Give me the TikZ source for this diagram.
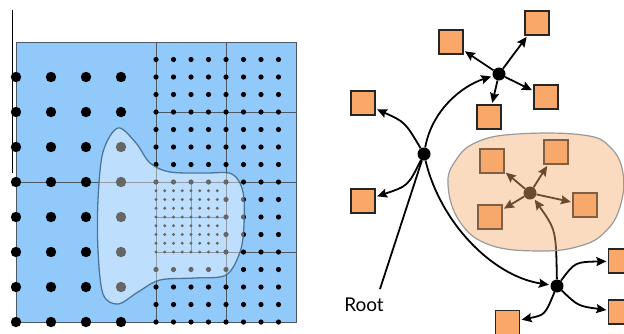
\documentclass[tikz,border=0pt]{standalone}
\usepackage{fontspec}
\setmainfont{Lato}
\usetikzlibrary{arrows.meta}
\definecolor{cellblue}{HTML}{91C9FA}
\definecolor{cellline}{HTML}{4A5866}
\definecolor{blobline}{HTML}{3F6688}
\definecolor{leafor}{HTML}{F9A86A}
\definecolor{peach}{HTML}{F5AC6E}
\tikzset{
 hub/.style={circle,fill=black,inner sep=0pt,minimum size=13pt},
 leaf/.style={rectangle,draw=black!85,line width=1.3pt,fill=leafor,minimum size=24pt,inner sep=0pt},
 arr/.style={line width=1.8pt,-{Stealth[length=10pt,width=9pt,inset=1.5pt]},shorten >=1.5pt},
}
\begin{document}
\begin{tikzpicture}[x=1pt,y=-1pt]
\useasboundingbox (0,0) rectangle (624,333);
% mesh
\draw[cellline,fill=cellblue,line width=0.9pt] (16,42) rectangle (296,322);
\draw[cellline,line width=1pt] (156,42) -- (156,322) (226,42) -- (226,322)
 (16,182) -- (297,182) (156,112) -- (296,112) (156,252) -- (296,252)
 (191,182) -- (191,252) (156,217) -- (226,217);
\draw[black,line width=1pt] (12,10) -- (12,173);
% coarse points
\foreach \i in {0,...,3}
 \foreach \j in {1,...,8}
  \fill (16+35*\i,42+35*\j) circle (5.2);
% medium points
\foreach \i in {0,...,7}
 \foreach \j in {1,...,16} {
  \pgfmathtruncatemacro{\skip}{(\i<4)&&(\j>8)&&(\j<13)}
  \ifnum\skip=0 \fill (156+17.5*\i,42+17.5*\j) circle (2.6); \fi
 }
% fine points
\foreach \i in {0,...,7}
 \foreach \j in {1,...,8}
  \fill (156+8.75*\i,182+8.75*\j) circle (1.6);
% region
\draw[blobline,line width=1.3pt,draw opacity=0.85,fill=white,fill opacity=0.4]
 plot[smooth cycle,tension=0.55] coordinates {(118,128) (136,143) (150,163) (170,172)
 (205,173) (232,174) (243,192) (244,225) (240,252) (226,275) (195,278) (160,280)
 (138,292) (118,304) (103,294) (98,250) (98,200) (103,152)};

% tree
\node[hub] (A) at (424,154) {};
\node[hub] (B) at (499,74) {};
\node[hub] (C) at (557,286) {};
\node[hub] (D) at (530,193) {};
\node[leaf] (s1) at (451,42) {};
\node[leaf] (s2) at (537,23) {};
\node[leaf] (s3) at (546,97) {};
\node[leaf] (s4) at (489,117) {};
\node[leaf] (s5) at (363,103) {};
\node[leaf] (s6) at (363,201) {};
\node[leaf] (s7) at (492,161) {};
\node[leaf] (s8) at (556,152) {};
\node[leaf] (s9) at (490,217) {};
\node[leaf] (s10) at (585,205) {};
\node[leaf] (s11) at (620.5,261) {};
\node[leaf] (s12) at (620.5,312) {};
\node[leaf] (s13) at (507.5,322.5) {};
\node[font=\fontsize{19}{22}\selectfont] (root) at (364,305) {Root};
\coordinate (r0) at (380,289);

\draw[line width=1.8pt] (r0) -- (A);
\draw[arr] (A) .. controls (405,122) .. (s5);
\draw[arr] (A) .. controls (408,186) .. (s6);
\draw[arr] (A) .. controls (432,110) and (462,86) .. (B);
\draw[arr] (A) .. controls (440,222) and (492,276) .. (C);
\foreach \s in {s1,s2,s3,s4}
 \draw[arr] (B) -- (\s);
\draw[arr] (C) .. controls (575,262) .. (s11);
\draw[arr] (C) .. controls (578,306) .. (s12);
\draw[arr] (C) .. controls (545,315) .. (s13);
\draw[arr] (C) .. controls (556,230) .. (D);
\foreach \s in {s7,s8,s9,s10}
 \draw[arr] (D) -- (\s);
% cluster
\draw[gray!80,line width=1.2pt,fill=peach,fill opacity=0.44]
 plot[smooth cycle,tension=0.7] coordinates {(448,185) (456,160) (477,142) (517,134)
 (583,135) (610,147) (623,173) (620,207) (605,232) (580,246) (540,251) (490,245) (460,222)};
\end{tikzpicture}
\end{document}
